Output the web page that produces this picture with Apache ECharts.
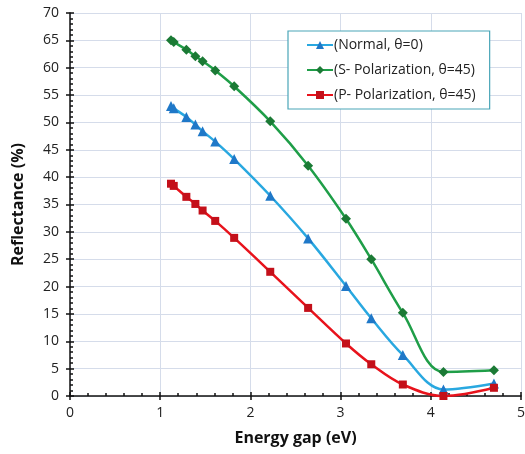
<!DOCTYPE html>
<html>
<head>
<meta charset="utf-8">
<script src="https://cdn.jsdelivr.net/npm/echarts@6/dist/echarts.min.js"></script>
<style>
  html, body { margin: 0; padding: 0; background: #fff; }
  #chart { width: 525px; height: 454px; }
</style>
</head>
<body>
<div id="chart"></div>
<script>
const energyGap = [1.12, 1.15, 1.29, 1.39, 1.47, 1.61, 1.82, 2.22, 2.64, 3.06, 3.34, 3.69, 4.14, 4.70]
const normal = [53.0, 52.6, 51.0, 49.6, 48.4, 46.5, 43.3, 36.6, 28.8, 20.1, 14.2, 7.5, 1.2, 2.3]
const sPol = [65.0, 64.7, 63.3, 62.1, 61.2, 59.5, 56.6, 50.2, 42.1, 32.4, 25.0, 15.2, 4.4, 4.7]
const pPol = [38.8, 38.4, 36.4, 35.1, 33.9, 32.0, 28.9, 22.7, 16.1, 9.6, 5.8, 2.1, 0.0, 1.5]
const seriesNames = ['(Normal, θ=0)', '(S- Polarization, θ=45)', '(P- Polarization, θ=45)']

const font = '"Open Sans", "Noto Sans", sans-serif'

function pairs(ys) {
  return energyGap.map((x, i) => [x, ys[i]])
}

function makeSeries(name, ys, symbol, size, lineColor, markColor) {
  return {
    name,
    type: 'line',
    smooth: 0.35,
    symbol,
    symbolSize: size,
    lineStyle: { width: 2.5, color: lineColor },
    itemStyle: { color: markColor },
    data: pairs(ys)
  }
}

const chart = echarts.init(document.getElementById('chart'))
chart.setOption({
  animation: false,
  textStyle: { fontFamily: font },
  grid: { left: 70, right: 4, top: 13, bottom: 58, outerBoundsMode: 'none' },
  legend: {
    orient: 'vertical',
    left: 288,
    top: 31,
    width: 208,
    padding: [7, 14, 7, 18],
    itemGap: 11,
    itemWidth: 26,
    itemHeight: 10,
    borderColor: '#4aa6b8',
    borderWidth: 1.2,
    backgroundColor: '#fff',
    textStyle: { fontSize: 14, color: '#222', padding: [0, 0, 0, -4] },
    data: seriesNames
  },
  xAxis: [{
    type: 'value',
    min: 0,
    max: 5,
    interval: 1,
    name: 'Energy gap (eV)',
    nameLocation: 'middle',
    nameGap: 34,
    nameTextStyle: { fontSize: 16, fontWeight: 'bold', color: '#111' },
    axisLine: { show: true, lineStyle: { color: '#111', width: 1.5 } },
    axisTick: { show: true, length: 4, lineStyle: { color: '#111', width: 1.5 } },
    axisLabel: { fontSize: 14, color: '#222', margin: 10 },
    splitLine: { show: true, lineStyle: { color: '#d5dcea', width: 1 } }
  }, {
    type: 'value',
    position: 'bottom',
    min: 0,
    max: 5,
    interval: 1,
    axisLine: { show: false },
    axisTick: { show: true, inside: true, length: 4, lineStyle: { color: '#111', width: 1.5 } },
    minorTick: { show: true, splitNumber: 5, length: 3, lineStyle: { color: '#111', width: 1.5 } },
    axisLabel: { show: false },
    splitLine: { show: false }
  }],
  yAxis: [{
    type: 'value',
    min: 0,
    max: 70,
    interval: 5,
    name: 'Reflectance (%)',
    nameLocation: 'middle',
    nameGap: 44,
    nameTextStyle: { fontSize: 16, fontWeight: 'bold', color: '#111' },
    axisLine: { show: true, lineStyle: { color: '#111', width: 1.5 } },
    axisTick: { show: true, length: 4, lineStyle: { color: '#111', width: 1.5 } },
    axisLabel: { fontSize: 14, color: '#222', margin: 11 },
    splitLine: { show: true, lineStyle: { color: '#d5dcea', width: 1 } }
  }, {
    type: 'value',
    position: 'left',
    min: 0,
    max: 70,
    interval: 5,
    axisLine: { show: false },
    axisTick: { show: true, inside: true, length: 4, lineStyle: { color: '#111', width: 1.5 } },
    minorTick: { show: true, splitNumber: 5, length: 3, lineStyle: { color: '#111', width: 1.5 } },
    axisLabel: { show: false },
    splitLine: { show: false }
  }],
  series: [
    makeSeries(seriesNames[0], normal, 'triangle', 10, '#29a8e0', '#1f78c8'),
    makeSeries(seriesNames[1], sPol, 'diamond', 10, '#1f9e48', '#1b7a35'),
    makeSeries(seriesNames[2], pPol, 'rect', 8, '#e8131c', '#c4101a')
  ]
})
</script>
</body>
</html>
